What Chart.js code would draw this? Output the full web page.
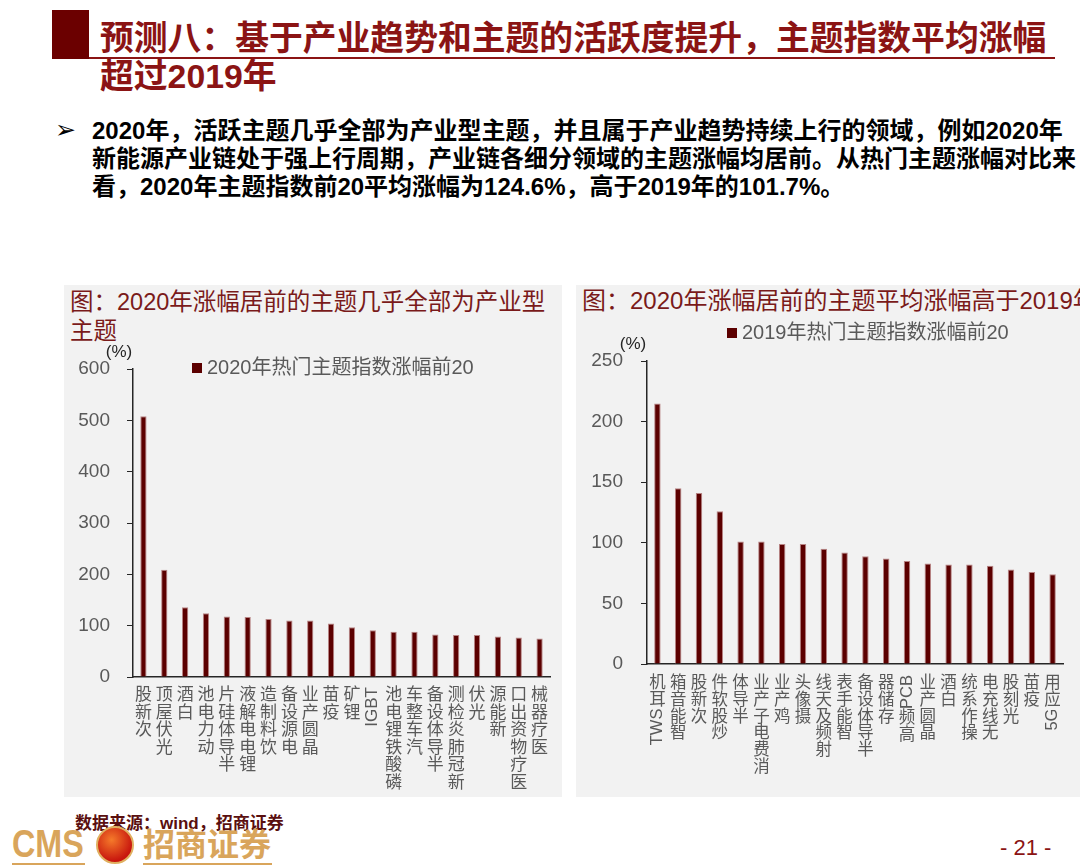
<!DOCTYPE html>
<html lang="zh">
<head>
<meta charset="utf-8">
<title>热门主题指数涨幅</title>
<script src="https://cdn.jsdelivr.net/npm/chart.js@4.4.1/dist/chart.umd.min.js"></script>
<style>
  body { margin:0; width:1080px; height:866px; position:relative; overflow:hidden; background:#fff;
         font-family:'Liberation Sans','Noto Sans CJK SC',sans-serif; }
  .abs { position:absolute; white-space:nowrap; }
  #mark { left:52px; top:10px; width:37px; height:49px; background:#6b0000; }
  #rule { left:89px; top:57px; width:966px; height:2px; background:#8b1414; }
  #head { left:100px; top:19px; font-size:33.8px; line-height:38px; font-weight:bold; color:#8b1414; }
  #bullet { left:55px; top:116px; font-size:25px; line-height:28px; font-family:'DejaVu Sans',sans-serif; }
  #text { left:92px; top:117px; font-size:24px; line-height:28px; font-weight:bold; color:#000; }
  .panel { top:285px; height:512px; background:#f2f2f2; }
  #p1 { left:64px; width:498px; }
  #p2 { left:576px; width:504px; }
  .ptitle { color:#7a1a1a; }
  #t1 { left:70px; top:288px; font-size:23.5px; line-height:29px; }
  #t2 { left:582px; top:286px; font-size:24px; line-height:29px; }
  canvas { position:absolute; }
  #c1 { left:64px; top:340px; }
  #c2 { left:576px; top:315px; }
  #src { left:75px; top:814px; font-size:17px; line-height:20px; font-weight:bold; color:#5a0f0f; }
  #cms { left:12px; top:824px; font-size:38px; line-height:40px; font-weight:bold; color:#d9a55b;
         transform:scaleX(0.85); transform-origin:left; }
  #emblem { left:96px; top:826px; width:34px; height:34px; border-radius:50%;
            background:radial-gradient(circle at 40% 35%, #f57a2a, #c8160e 70%); border:2px solid #e0b060; }
  #cmscn { left:143px; top:826px; font-size:32px; line-height:38px; font-weight:bold; color:#d9a55b; }
  .gold { height:2px; top:863px; background:#d9a55b; }
  #page { left:1000px; top:836px; font-size:22px; line-height:24px; color:#8b1414; }
</style>
</head>
<body>
<div class="abs" id="mark"></div>
<div class="abs" id="rule"></div>
<div class="abs" id="head">预测八：基于产业趋势和主题的活跃度提升，主题指数平均涨幅<br>超过2019年</div>
<div class="abs" id="bullet">➢</div>
<div class="abs" id="text">2020年，活跃主题几乎全部为产业型主题，并且属于产业趋势持续上行的领域，例如2020年<br>新能源产业链处于强上行周期，产业链各细分领域的主题涨幅均居前。从热门主题涨幅对比来<br>看，2020年主题指数前20平均涨幅为124.6%，高于2019年的101.7%。</div>

<div class="abs panel" id="p1"></div>
<div class="abs panel" id="p2"></div>
<div class="abs ptitle" id="t1">图：2020年涨幅居前的主题几乎全部为产业型<br>主题</div>
<div class="abs ptitle" id="t2">图：2020年涨幅居前的主题平均涨幅高于2019年</div>
<canvas id="c1" width="498" height="457"></canvas>
<canvas id="c2" width="504" height="482"></canvas>

<div class="abs" id="src">数据来源：wind，招商证券</div>
<div class="abs" id="cms">CMS</div>
<div class="abs" id="emblem"></div>
<div class="abs" id="cmscn">招商证券</div>
<div class="abs gold" style="left:12px;width:73px"></div>
<div class="abs gold" style="left:143px;width:129px"></div>
<div class="abs" id="page">- 21 -</div>

<script>
// 2020年热门主题指数涨幅前20 (%)
const themes2020 = ['次新股', '光伏屋顶', '白酒', '动力电池', '半导体硅片', '锂电电解液', '饮料制造', '电源设备',
    '晶圆产业', '疫苗', '锂矿', 'IGBT', '磷酸铁锂电池', '汽车整车', '半导体设备', '新冠肺炎检测', '光伏', '新能源',
    '医疗物资出口', '医疗器械'];
const gains2020 = [508, 209, 136, 124, 118, 117, 113, 110, 110, 104, 97, 91, 88, 88, 83, 82, 82, 79, 77, 75];

// 2019年热门主题指数涨幅前20 (%)
const themes2019 = ['TWS耳机', '智能音箱', '次新股', '炒股软件', '半导体', '消费电子产业', '鸡产业', '摄像头',
    '射频及天线', '智能手表', '半导体设备', '存储器', '高频PCB', '晶圆产业', '白酒', '操作系统', '无线充电', '光刻股',
    '疫苗', '5G应用'];
const gains2019 = [215, 145, 141, 126, 101, 101, 99, 99, 95, 92, 89, 87, 85, 83, 82, 82, 81, 78, 76, 74];

const ticks2020 = { max: 600, step: 100 };
const ticks2019 = { max: 250, step: 50 };

const FONT = "'Liberation Sans', 'Noto Sans CJK SC', sans-serif";
const BAR = '#5c0000';
const AXIS = '#262626';
const GREY = '#595959';

// legend and unit drawn inside the plot, like the original
const innerLegend = {
    id: 'innerLegend',
    afterDraw(chart, args, opts) {
        const { ctx, chartArea } = chart;
        const ds = chart.data.datasets[0];
        const x = chartArea.left + opts.dx;
        const y = chartArea.top + opts.dy;
        ctx.save();
        ctx.fillStyle = BAR;
        ctx.fillRect(x, y - 5, 10, 10);
        ctx.font = '20px ' + FONT;
        ctx.fillStyle = GREY;
        ctx.textBaseline = 'middle';
        ctx.fillText(ds.label, x + 15, y);
        ctx.font = '17px ' + FONT;
        ctx.textAlign = 'center';
        ctx.fillStyle = AXIS;
        ctx.fillText('(%)', chartArea.left - 14, chartArea.top - 17);
        ctx.restore();
    }
};

// category labels: characters stacked upright, read bottom to top, latin runs rotated
const verticalLabels = {
    id: 'verticalLabels',
    afterDraw(chart, args, opts) {
        const ctx = chart.ctx;
        const xs = chart.scales.x;
        ctx.save();
        ctx.font = opts.size + 'px ' + FONT;
        ctx.fillStyle = GREY;
        ctx.textBaseline = 'middle';
        chart.data.labels.forEach((label, i) => {
            const cx = xs.getPixelForTick(i);
            let y = xs.top + opts.offset;
            const runs = label.match(/[A-Za-z0-9]+|[^A-Za-z0-9]/g).reverse();
            runs.forEach(run => {
                if (/^[A-Za-z0-9]+$/.test(run)) {
                    const w = ctx.measureText(run).width;
                    ctx.save();
                    ctx.translate(cx, y + w);
                    ctx.rotate(-Math.PI / 2);
                    ctx.textAlign = 'left';
                    ctx.fillText(run, 0, 0);
                    ctx.restore();
                    y += w + 1;
                } else {
                    ctx.textAlign = 'center';
                    ctx.fillText(run, cx, y + opts.step / 2);
                    y += opts.step;
                }
            });
        });
        ctx.restore();
    }
};

function makeChart(id, labels, values, name, t, cfg) {
    const ctx = document.getElementById(id).getContext('2d');
    return new Chart(ctx, {
        type: 'bar',
        data: {
            labels: labels,
            datasets: [{
                label: name,
                data: values,
                backgroundColor: BAR,
                borderColor: 'rgba(176, 120, 120, 0.9)',
                borderWidth: 1,
                barPercentage: cfg.bar,
                categoryPercentage: 1
            }]
        },
        options: {
            responsive: false,
            animation: false,
            layout: { padding: { top: cfg.top, right: cfg.right, left: 0, bottom: 0 } },
            plugins: {
                legend: { display: false },
                tooltip: { enabled: false },
                innerLegend: { dx: cfg.legX, dy: cfg.legY },
                verticalLabels: { offset: cfg.labOff, step: cfg.labStep, size: cfg.labSize }
            },
            scales: {
                x: {
                    grid: { display: false },
                    border: { color: AXIS, width: 1.5 },
                    ticks: { display: false },
                    afterFit(s) { s.height = cfg.xh; }
                },
                y: {
                    min: 0,
                    max: t.max,
                    ticks: { stepSize: t.step, color: GREY, padding: cfg.pad, font: { size: 19, family: FONT } },
                    grid: { drawOnChartArea: false, tickLength: 6, color: AXIS },
                    border: { color: AXIS, width: 1.5 },
                    afterFit(s) { s.width = cfg.yw; }
                }
            }
        },
        plugins: [innerLegend, verticalLabels]
    });
}

window.onload = function() {
    makeChart('c1', themes2020, gains2020, '2020年热门主题指数涨幅前20', ticks2020, {
        bar: 0.3, top: 29, right: 12, xh: 120, yw: 69, pad: 17,
        legX: 59, legY: -1, labOff: 10, labStep: 17.5, labSize: 17
    });
    makeChart('c2', themes2019, gains2019, '2019年热门主题指数涨幅前20', ticks2019, {
        bar: 0.31, top: 46, right: 17, xh: 133, yw: 71, pad: 18,
        legX: 80, legY: -28, labOff: 11, labStep: 16.8, labSize: 16.5
    });
};
</script>
</body>
</html>
